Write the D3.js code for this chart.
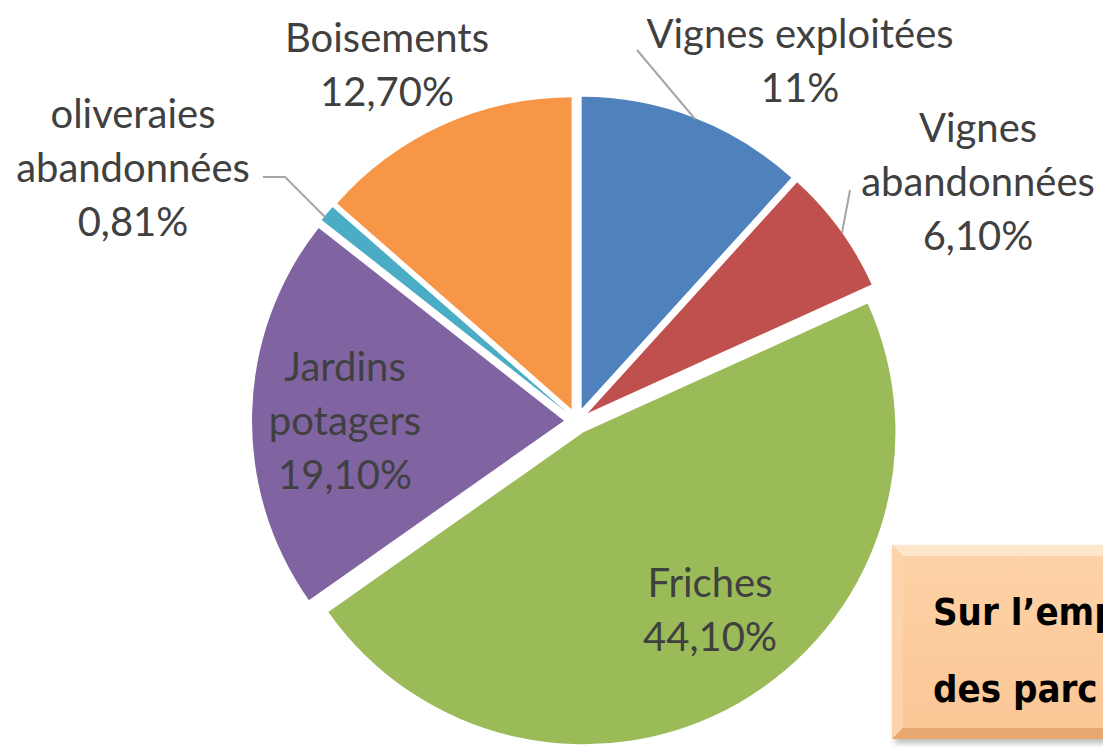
<!DOCTYPE html>
<html>
<head>
<meta charset="utf-8">
<script src="https://cdn.jsdelivr.net/npm/d3@7"></script>
<style>
  html, body { margin: 0; padding: 0; background: #fff; overflow: hidden; }
  svg { display: block; }
</style>
</head>
<body>
<div id="chart"></div>
<script>
// Data (clockwise from 12 o'clock)
const categories = ["Vignes exploitées", "Vignes abandonnées", "Friches", "Jardins potagers", "oliveraies abandonnées", "Boisements"];
const values = [11, 6.1, 44.1, 19.1, 0.81, 12.7];
const valueLabels = ["11%", "6,10%", "44,10%", "19,10%", "0,81%", "12,70%"];
const labelLines = [
  ["Vignes exploitées"],
  ["Vignes", "abandonnées"],
  ["Friches"],
  ["Jardins", "potagers"],
  ["oliveraies", "abandonnées"],
  ["Boisements"]
];
const colors = ["#4f81bd", "#c0504d", "#9bbb59", "#8064a2", "#4bacc6", "#f79646"];
const boxLines = ["Sur l’emp", "des parc"];

const width = 1103, height = 747;
const cx = 577, cy = 421, radius = 312, explode = 13;

const svg = d3.select("#chart").append("svg")
  .attr("width", width)
  .attr("height", height);

const pie = d3.pie().sort(null).value(d => d);
const arcs = pie(values);
const arc = d3.arc().innerRadius(0).outerRadius(radius);

const g = svg.append("g").attr("transform", `translate(${cx},${cy})`);

// exploded slices
g.selectAll("path.slice")
  .data(arcs)
  .join("path")
  .attr("class", "slice")
  .attr("d", arc)
  .attr("fill", (d, i) => colors[i])
  .attr("transform", d => {
    const mid = (d.startAngle + d.endAngle) / 2;
    return `translate(${Math.sin(mid) * explode},${-Math.cos(mid) * explode})`;
  });

// label layout (centre x, first line centre y) relative to the pie centre
const labelLayout = [
  { x: 223, y: -388 },
  { x: 401, y: -294 },
  { x: 133, y: 161 },
  { x: -232, y: -55 },
  { x: -444, y: -308 },
  { x: -190, y: -384 }
];
const lineStep = 54;

const labels = g.selectAll("g.label")
  .data(arcs)
  .join("g")
  .attr("class", "label")
  .attr("transform", (d, i) => `translate(${labelLayout[i].x},${labelLayout[i].y})`);

labels.each(function(d, i) {
  const lines = labelLines[i].concat([valueLabels[i]]);
  d3.select(this).selectAll("text")
    .data(lines)
    .join("text")
    .attr("x", 0)
    .attr("y", (t, k) => k * lineStep)
    .attr("text-anchor", "middle")
    .attr("dominant-baseline", "central")
    .style("font-family", "Lato, 'Open Sans', sans-serif")
    .style("font-size", "40px")
    .style("fill", "#404040")
    .text(t => t);
});

// leader lines
const leaders = [
  [[60, -371], [118, -302]],
  [[273, -231], [265, -188]],
  [[-314, -244], [-292, -244], [-252, -204]]
];
const line = d3.line();
g.selectAll("path.leader")
  .data(leaders)
  .join("path")
  .attr("class", "leader")
  .attr("d", line)
  .attr("fill", "none")
  .attr("stroke", "#a6a6a6")
  .attr("stroke-width", 2);

// bevelled call-out box (cut off at the right/bottom edge)
const defs = svg.append("defs");
const blur = defs.append("filter").attr("id", "shadow").attr("x", "-10%").attr("y", "-10%").attr("width", "130%").attr("height", "130%");
blur.append("feGaussianBlur").attr("stdDeviation", 3);
const grad = defs.append("linearGradient").attr("id", "face").attr("x1", 0).attr("y1", 0).attr("x2", 0).attr("y2", 1);
grad.append("stop").attr("offset", "0%").attr("stop-color", "#fdd2a6");
grad.append("stop").attr("offset", "100%").attr("stop-color", "#fbc696");

const bx = 892, by = 545, bw = 260, bh = 194, bev = 11;
svg.append("rect").attr("x", bx + 3).attr("y", by + 4).attr("width", bw).attr("height", bh)
  .attr("fill", "#8a8a8a").attr("opacity", 0.6).attr("filter", "url(#shadow)");
svg.append("rect").attr("x", bx).attr("y", by).attr("width", bw).attr("height", bh).attr("fill", "#f5b985");
// bevel bands
svg.append("path").attr("d", `M${bx},${by}L${bx + bw},${by}L${bx + bw - bev},${by + bev}L${bx + bev},${by + bev}Z`).attr("fill", "#fee6cc");
svg.append("path").attr("d", `M${bx},${by}L${bx + bev},${by + bev}L${bx + bev},${by + bh - bev}L${bx},${by + bh}Z`).attr("fill", "#fcd3aa");
svg.append("path").attr("d", `M${bx},${by + bh}L${bx + bev},${by + bh - bev}L${bx + bw - bev},${by + bh - bev}L${bx + bw},${by + bh}Z`).attr("fill", "#e9a870");
svg.append("rect").attr("x", bx + bev).attr("y", by + bev).attr("width", bw - 2 * bev).attr("height", bh - 2 * bev).attr("fill", "url(#face)");

svg.selectAll("text.box")
  .data(boxLines)
  .join("text")
  .attr("class", "box")
  .attr("x", 933)
  .attr("y", (d, i) => 625 + i * 77)
  .style("font-family", "'DejaVu Sans Condensed', 'DejaVu Sans', sans-serif")
  .style("font-stretch", "condensed")
  .style("font-weight", "bold")
  .style("font-size", "38px")
  .style("fill", "#000")
  .text(d => d);
</script>
</body>
</html>
